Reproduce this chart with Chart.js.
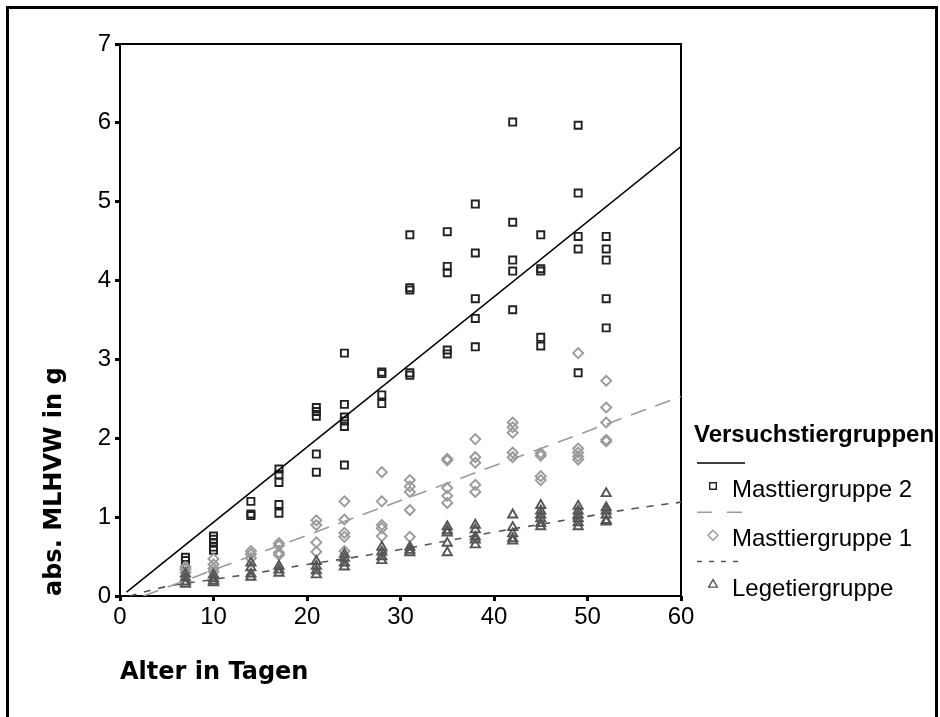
<!DOCTYPE html>
<html>
<head>
<meta charset="utf-8">
<script src="https://cdn.jsdelivr.net/npm/chart.js@4.4.0/dist/chart.umd.min.js"></script>
<style>
  html, body { margin: 0; padding: 0; background: #fff; overflow: hidden; }
  #frame { position: absolute; left: 6px; top: 6px; width: 926px; height: 740px; border: 3px solid #000; }
  #wrap { position: absolute; left: 0; top: 0; width: 940px; height: 717px; }
</style>
</head>
<body>
<div id="frame"></div>
<div id="wrap"><canvas id="chart" width="940" height="717"></canvas></div>
<script>
// Alter in Tagen (x positions of the measurement days)
const ages = [7, 10, 14, 17, 21, 24, 28, 31, 35, 38, 42, 45, 49, 52];

// abs. MLHVW in g, one list of animals per day
const mast2Values = [
  [0.49, 0.45, 0.40],
  [0.76, 0.72, 0.68, 0.62, 0.58],
  [1.20, 1.04, 1.02],
  [1.61, 1.54, 1.44, 1.16, 1.05],
  [2.39, 2.34, 2.28, 1.80, 1.57],
  [3.08, 2.43, 2.27, 2.22, 2.15, 1.66],
  [2.84, 2.82, 2.55, 2.44],
  [4.58, 3.91, 3.88, 2.83, 2.80],
  [4.62, 4.18, 4.10, 3.12, 3.07],
  [4.97, 4.35, 3.77, 3.52, 3.16],
  [6.01, 4.74, 4.26, 4.12, 3.63],
  [4.58, 4.15, 4.12, 3.28, 3.17],
  [5.97, 5.11, 4.56, 4.40, 2.83],
  [4.56, 4.40, 4.26, 3.77, 3.40]
];
const mast1Values = [
  [0.37, 0.34, 0.30],
  [0.47, 0.40, 0.35, 0.31],
  [0.57, 0.53, 0.48],
  [0.67, 0.64, 0.55, 0.52],
  [0.96, 0.90, 0.68, 0.56],
  [1.20, 0.97, 0.80, 0.75, 0.57],
  [1.57, 1.20, 0.90, 0.86, 0.76],
  [1.47, 1.39, 1.32, 1.09, 0.75],
  [1.74, 1.72, 1.37, 1.27, 1.18],
  [1.99, 1.76, 1.69, 1.41, 1.32],
  [2.20, 2.14, 2.07, 1.82, 1.76],
  [1.81, 1.78, 1.52, 1.47],
  [3.08, 1.87, 1.82, 1.77, 1.73],
  [2.73, 2.39, 2.20, 1.98, 1.96]
];
const legeValues = [
  [0.28, 0.23, 0.18, 0.15],
  [0.27, 0.22, 0.19, 0.17],
  [0.42, 0.36, 0.28, 0.24],
  [0.38, 0.33, 0.29],
  [0.44, 0.38, 0.32, 0.27],
  [0.53, 0.48, 0.42, 0.37],
  [0.62, 0.56, 0.50, 0.45],
  [0.62, 0.58, 0.55],
  [0.88, 0.83, 0.80, 0.67, 0.55],
  [0.90, 0.84, 0.75, 0.71, 0.65],
  [1.03, 0.87, 0.79, 0.73, 0.70],
  [1.15, 1.08, 1.03, 0.98, 0.92, 0.88],
  [1.14, 1.08, 1.03, 0.98, 0.93, 0.88],
  [1.30, 1.12, 1.08, 1.03, 0.96, 0.94]
];

// fitted curves
const mast2FitX = [0.7, 60];
const mast2FitY = [0.05, 5.70];
const mast1FitX = [2.5, 60];
const mast1FitY = [0.0, 2.53];
const legeFitX = [1, 5, 10, 15, 20, 25, 30, 35, 40, 45, 50, 55, 60];
const legeFitY = [0.0, 0.12, 0.21, 0.30, 0.40, 0.49, 0.59, 0.70, 0.81, 0.91, 1.01, 1.11, 1.19];

const groupNames = ['Masttiergruppe 2', 'Masttiergruppe 1', 'Legetiergruppe'];
const legendTitle = 'Versuchstiergruppen';
const xTitle = 'Alter in Tagen';
const yTitle = 'abs. MLHVW in g';

function toPoints(values) {
  const pts = [];
  ages.forEach((a, i) => values[i].forEach(v => pts.push({ x: a, y: v })));
  return pts;
}
function fitPoints(xs, ys) {
  return xs.map((x, i) => ({ x: x, y: ys[i] }));
}

// legend entries: line sample, marker, label
const legendRows = [
  { color: '#000', dash: [], marker: 'rect', markerColor: '#222' },
  { color: '#9a9a9a', dash: [15, 15], marker: 'diamond', markerColor: '#9a9a9a' },
  { color: '#555', dash: [5, 7], marker: 'triangle', markerColor: '#555' }
];

function drawMarker(ctx, type, x, y, r) {
  ctx.beginPath();
  if (type === 'rect') {
    ctx.rect(x - r, y - r, 2 * r, 2 * r);
  } else if (type === 'diamond') {
    ctx.moveTo(x, y - r); ctx.lineTo(x + r, y); ctx.lineTo(x, y + r); ctx.lineTo(x - r, y); ctx.closePath();
  } else {
    ctx.moveTo(x, y - r); ctx.lineTo(x + r * 0.87, y + r * 0.5); ctx.lineTo(x - r * 0.87, y + r * 0.5); ctx.closePath();
  }
  ctx.stroke();
}

const framePlugin = {
  id: 'frame',
  beforeDatasetsDraw(chart) {
    const a = chart.chartArea, ctx = chart.ctx;
    ctx.save();
    ctx.strokeStyle = '#000';
    ctx.lineWidth = 2;
    ctx.strokeRect(a.left, a.top, a.right - a.left, a.bottom - a.top);
    ctx.restore();
  },
  afterDraw(chart) {
    const ctx = chart.ctx;
    ctx.save();
    ctx.fillStyle = '#000';
    ctx.textBaseline = 'alphabetic';
    ctx.font = 'bold 24px "Liberation Sans", Arial, sans-serif';
    ctx.fillText(legendTitle, 694, 442);
    ctx.font = '24px "Liberation Sans", Arial, sans-serif';
    legendRows.forEach((row, i) => {
      const dy = i * 49.3;
      ctx.strokeStyle = row.color;
      ctx.lineWidth = 1.5;
      ctx.setLineDash(row.dash);
      ctx.beginPath();
      ctx.moveTo(697, 463 + dy);
      ctx.lineTo(745, 463 + dy);
      ctx.stroke();
      ctx.setLineDash([]);
      ctx.strokeStyle = row.markerColor;
      ctx.lineWidth = 1.4;
      drawMarker(ctx, row.marker, 713, 486 + dy, row.marker === 'rect' ? 3.3 : 5);
      ctx.fillStyle = '#000';
      ctx.fillText(groupNames[i], 732, 497 + dy);
    });
    ctx.restore();
  }
};

new Chart(document.getElementById('chart'), {
  type: 'scatter',
  data: {
    datasets: [
      { label: groupNames[0] + ' Fit', data: fitPoints(mast2FitX, mast2FitY), showLine: true, pointRadius: 0,
        borderColor: '#000', borderWidth: 1.6, order: 0 },
      { label: groupNames[1] + ' Fit', data: fitPoints(mast1FitX, mast1FitY), showLine: true, pointRadius: 0,
        borderColor: '#9a9a9a', borderWidth: 1.6, borderDash: [16, 10], order: 0 },
      { label: groupNames[2] + ' Fit', data: fitPoints(legeFitX, legeFitY), showLine: true, pointRadius: 0,
        borderColor: '#555', borderWidth: 1.6, borderDash: [7, 8], tension: 0.4, order: 0 },
      { label: groupNames[2], data: toPoints(legeValues), pointStyle: 'triangle', pointRadius: 5.3,
        borderColor: '#555', pointBorderColor: '#555', pointBackgroundColor: 'rgba(0,0,0,0)',
        pointBorderWidth: 1.9, order: 1 },
      { label: groupNames[1], data: toPoints(mast1Values), pointStyle: 'rectRot', pointRadius: 5,
        borderColor: '#9a9a9a', pointBorderColor: '#9a9a9a', pointBackgroundColor: 'rgba(0,0,0,0)',
        pointBorderWidth: 1.9, order: 2 },
      { label: groupNames[0], data: toPoints(mast2Values), pointStyle: 'rect', pointRadius: 5,
        borderColor: '#222', pointBorderColor: '#222', pointBackgroundColor: 'rgba(0,0,0,0)',
        pointBorderWidth: 1.9, order: 3 }
    ]
  },
  options: {
    responsive: false,
    animation: false,
    events: [],
    layout: { padding: { top: 44, right: 259, left: 0, bottom: 0 } },
    plugins: {
      legend: { display: false },
      tooltip: { enabled: false }
    },
    scales: {
      x: {
        type: 'linear',
        min: 0, max: 60,
        afterFit: (scale) => { scale.height = 121; },
        ticks: { stepSize: 10, color: '#000', padding: 2,
          font: { family: '"Liberation Sans", Arial, sans-serif', size: 24 } },
        grid: { display: true, drawOnChartArea: false, drawTicks: true, tickLength: 5, lineWidth: 3, color: '#000' },
        border: { display: false },
        title: { display: true, text: xTitle, align: 'start', color: '#000', padding: { top: 0, bottom: 30 },
          font: { family: '"DejaVu Sans", sans-serif', size: 24, weight: 'bold' } }
      },
      y: {
        type: 'linear',
        min: 0, max: 7,
        afterFit: (scale) => { scale.width = 120; },
        ticks: { stepSize: 1, color: '#000', padding: 4,
          font: { family: '"Liberation Sans", Arial, sans-serif', size: 24 } },
        grid: { display: true, drawOnChartArea: false, drawTicks: true, tickLength: 5, lineWidth: 3, color: '#000' },
        border: { display: false },
        title: { display: true, text: yTitle, align: 'start', color: '#000', padding: { top: 40, bottom: 0 },
          font: { family: '"DejaVu Sans", sans-serif', size: 24, weight: 'bold' } }
      }
    }
  },
  plugins: [framePlugin]
});
</script>
</body>
</html>
